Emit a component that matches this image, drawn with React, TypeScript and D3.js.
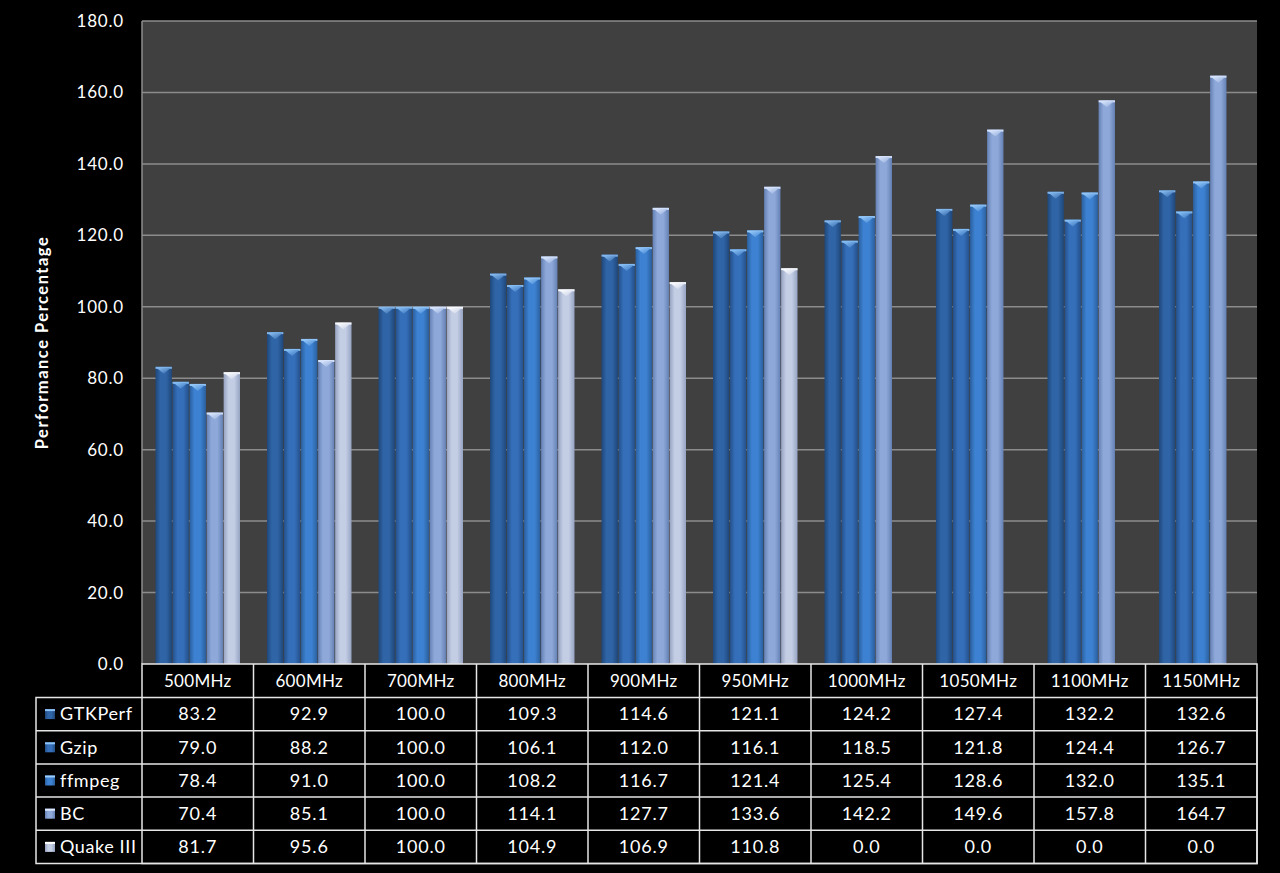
import React from "react";
import * as d3 from "d3";

const categories = ["500MHz", "600MHz", "700MHz", "800MHz", "900MHz", "950MHz", "1000MHz", "1050MHz", "1100MHz", "1150MHz"];
const seriesNames = ["GTKPerf", "Gzip", "ffmpeg", "BC", "Quake III"];
const gtkperf = [83.2, 92.9, 100.0, 109.3, 114.6, 121.1, 124.2, 127.4, 132.2, 132.6];
const gzip = [79.0, 88.2, 100.0, 106.1, 112.0, 116.1, 118.5, 121.8, 124.4, 126.7];
const ffmpeg = [78.4, 91.0, 100.0, 108.2, 116.7, 121.4, 125.4, 128.6, 132.0, 135.1];
const bc = [70.4, 85.1, 100.0, 114.1, 127.7, 133.6, 142.2, 149.6, 157.8, 164.7];
const quake = [81.7, 95.6, 100.0, 104.9, 106.9, 110.8, 0.0, 0.0, 0.0, 0.0];
const yTicks = [0, 20, 40, 60, 80, 100, 120, 140, 160, 180];

const seriesValues = [gtkperf, gzip, ffmpeg, bc, quake];
const seriesColors = [
  { mid: "#2f64a6", edge: "#1f477a", cap: "#8cc0f4" },
  { mid: "#356fba", edge: "#24508a", cap: "#8cc4f8" },
  { mid: "#3d82d2", edge: "#2a5f9e", cap: "#9ccdfb" },
  { mid: "#8ea9d9", edge: "#6580b4", cap: "#dfeaff" },
  { mid: "#c3cde4", edge: "#96a3c2", cap: "#ffffff" },
];

const W = 1280;
const H = 873;
const plot = { left: 142, right: 1257, top: 21, bottom: 664 };
const tableLeft = 36;
const rowH = 33.2;
const headerH = 33.5;
const font = "Lato, 'Open Sans', sans-serif";

export default function App() {
  const x = d3.scaleBand<string>().domain(categories).range([plot.left, plot.right]).paddingInner(0).paddingOuter(0);
  const y = d3.scaleLinear().domain([0, 180]).range([plot.bottom, plot.top]);
  const groupPad = 13.5;
  const inner = d3
    .scaleBand<string>()
    .domain(seriesNames)
    .range([groupPad, x.bandwidth() - groupPad])
    .paddingInner(0.04);

  const headerTop = plot.bottom;
  const rowsTop = headerTop + headerH;

  return (
    <svg width={W} height={H} style={{ display: "block", position: "absolute", left: 0, top: 0, background: "#000" }}>
      <defs>
        {seriesColors.map((c, i) => (
          <linearGradient id={`g${i}`} key={i} x1="0" x2="1" y1="0" y2="0">
            <stop offset="0" stopColor={c.edge} />
            <stop offset="0.3" stopColor={c.mid} />
            <stop offset="0.65" stopColor={c.mid} />
            <stop offset="1" stopColor={c.edge} />
          </linearGradient>
        ))}
        {seriesColors.map((c, i) => (
          <linearGradient id={`k${i}`} key={i} x1="0" x2="1" y1="0" y2="1">
            <stop offset="0" stopColor={c.cap} />
            <stop offset="1" stopColor={c.mid} />
          </linearGradient>
        ))}
      </defs>
      <rect x={0} y={0} width={W} height={H} fill="#000" />
      <rect x={plot.left} y={plot.top} width={plot.right - plot.left} height={plot.bottom - plot.top} fill="#404040" />
      {yTicks.map((t) => (
        <g key={t}>
          {t > 0 && <line x1={plot.left} x2={plot.right} y1={y(t)} y2={y(t)} stroke="#8c8c8c" strokeWidth={1.5} />}
          <text x={124} y={y(t)} dy="0.35em" textAnchor="end" fill="#ffffff" fontSize={17} letterSpacing={0.8} fontFamily={font}>
            {t.toFixed(1)}
          </text>
        </g>
      ))}
      <line x1={plot.left} x2={plot.left} y1={plot.top} y2={plot.bottom} stroke="#8c8c8c" strokeWidth={1.5} />
      <text
        transform={`translate(48,${(plot.top + plot.bottom) / 2}) rotate(-90)`}
        textAnchor="middle"
        fill="#fff"
        fontSize={16.5}
        letterSpacing={1.5}
        fontWeight="bold"
        fontFamily={font}
      >
        Performance Percentage
      </text>
      {categories.map((cat, ci) => (
        <g key={cat} transform={`translate(${x(cat)},0)`}>
          {seriesNames.map((s, si) => {
            const v = seriesValues[si][ci];
            if (v <= 0) return null;
            const bx = inner(s)!;
            const bw = inner.bandwidth();
            const top = y(v);
            const h = y(0) - top;
            return (
              <g key={s}>
                <rect x={bx} y={top} width={bw} height={h} fill={`url(#g${si})`} />
                <rect x={bx} y={top} width={bw} height={2} fill={seriesColors[si].cap} opacity={0.9} />
                <path
                  d={`M${bx + 1},${top + 1} L${bx + bw - 1},${top + 1} L${bx + bw / 2},${top + 7} Z`}
                  fill={`url(#k${si})`}
                />
              </g>
            );
          })}
        </g>
      ))}
      {/* table */}
      <g fill="none" stroke="#e6e6e6" strokeWidth={1.5}>
        <rect x={plot.left} y={headerTop} width={plot.right - plot.left} height={headerH + rowH * 5} />
        <rect x={tableLeft} y={rowsTop} width={plot.right - tableLeft} height={rowH * 5} />
        {seriesNames.map((s, i) =>
          i > 0 ? <line key={s} x1={tableLeft} x2={plot.right} y1={rowsTop + rowH * i} y2={rowsTop + rowH * i} /> : null
        )}
        {categories.map((c, i) =>
          i > 0 ? <line key={c} x1={x(c)} x2={x(c)} y1={headerTop} y2={rowsTop + rowH * 5} /> : null
        )}
      </g>
      {categories.map((c) => (
        <text
          key={c}
          x={x(c)! + x.bandwidth() / 2}
          y={headerTop + headerH / 2}
          dy="0.35em"
          textAnchor="middle"
          fill="#fff"
          fontSize={17}
          letterSpacing={0.3}
          fontFamily={font}
        >
          {c}
        </text>
      ))}
      {seriesNames.map((s, si) => (
        <g key={s}>
          <rect x={45} y={rowsTop + rowH * si + rowH / 2 - 5} width={10} height={10} fill={`url(#g${si})`} />
          <rect x={45} y={rowsTop + rowH * si + rowH / 2 - 5} width={10} height={2} fill={seriesColors[si].cap} />
          <text
            x={60}
            y={rowsTop + rowH * si + rowH / 2}
            dy="0.35em"
            fill="#fff"
            fontSize={18}
            letterSpacing={0.6}
            fontFamily={font}
          >
            {s}
          </text>
          {categories.map((c, ci) => (
            <text
              key={c}
              x={x(c)! + x.bandwidth() / 2}
              y={rowsTop + rowH * si + rowH / 2}
              dy="0.35em"
              textAnchor="middle"
              fill="#fff"
              fontSize={18}
              letterSpacing={0.8}
              fontFamily={font}
            >
              {seriesValues[si][ci].toFixed(1)}
            </text>
          ))}
        </g>
      ))}
    </svg>
  );
}
